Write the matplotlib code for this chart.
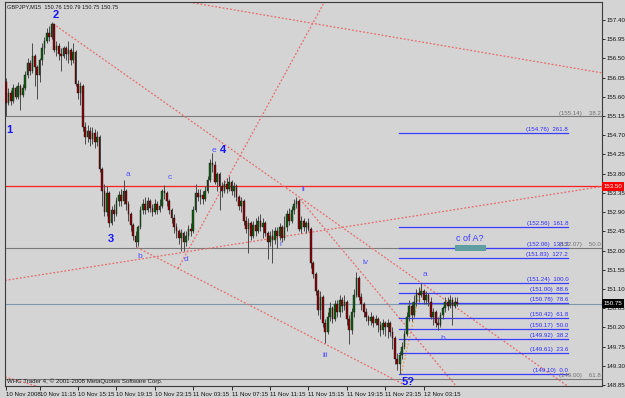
import numpy as np
import matplotlib.pyplot as plt
import matplotlib.transforms as mtransforms

plt.rcParams['font.family'] = ['Liberation Sans', 'DejaVu Sans']

# GBPJPY M15 candles, bar by bar (open = previous close)
first_open = 155.95
closes = [155.45, 155.70, 155.50, 155.80, 155.60, 155.85, 155.65, 155.80, 156.10, 156.40,
          156.20, 156.55, 156.30, 156.10, 156.45, 156.75, 156.90, 157.10, 157.00, 157.30,
          156.70, 156.80, 156.60, 156.55, 156.75, 156.60, 156.70, 156.45, 156.65, 155.90,
          155.70, 155.85, 154.90, 154.65, 154.80, 154.60, 154.75, 154.55, 154.65, 153.90,
          153.40, 152.90, 153.35, 152.65, 152.95, 152.85, 153.15, 153.30, 153.15, 153.40,
          153.10, 152.85, 152.60, 152.35, 152.20, 152.55, 152.95, 153.10, 152.95, 153.15,
          153.00, 152.90, 153.10, 152.95, 153.05, 153.40, 153.35, 153.15, 152.95, 152.75,
          152.55, 152.45, 152.30, 152.40, 152.20, 152.35, 152.50, 152.45, 152.95, 153.35,
          153.25, 153.30, 153.20, 153.40, 153.65, 154.05, 154.00, 153.60, 153.80, 153.50,
          153.40, 153.55, 153.45, 153.60, 153.40, 153.50, 153.25, 153.05, 153.15, 152.70,
          152.50, 152.65, 152.35, 152.60, 152.45, 152.70, 152.55, 152.65, 152.40, 152.20,
          152.35, 152.25, 152.45, 152.35, 152.55, 152.30, 152.55, 152.85, 152.70, 152.95,
          153.10, 153.15, 152.50, 152.70, 152.55, 152.65, 152.50, 151.70, 151.45, 151.05,
          150.60, 150.90, 150.30, 150.10, 150.45, 150.65, 150.40, 150.75, 150.55, 150.85,
          150.70, 150.80, 150.40, 150.15, 150.55, 150.95, 151.35, 150.90, 150.75, 150.55,
          150.45, 150.35, 150.45, 150.30, 150.40, 150.25, 150.15, 150.30, 150.20, 150.30,
          150.10, 149.95, 149.45, 149.35, 149.55, 149.75, 150.05, 150.45, 150.70, 150.50,
          150.80, 151.00, 150.95, 151.05, 150.85, 150.95, 150.80, 150.45, 150.55, 150.30,
          150.25, 150.50, 150.65, 150.80, 150.70, 150.85, 150.70, 150.80, 150.75]
highs = [156.05, 155.80, 155.75, 155.90, 155.85, 155.95, 155.90, 155.90, 156.20, 156.50,
         156.45, 156.86, 156.60, 156.35, 156.50, 156.85, 157.00, 157.20, 157.25, 157.36,
         157.30, 156.90, 156.85, 156.75, 156.80, 156.80, 156.90, 156.75, 156.85, 156.70,
         156.00, 155.95, 155.90, 155.00, 154.95, 154.90, 154.90, 154.85, 154.80, 154.70,
         153.95, 153.55, 153.50, 153.40, 153.05, 153.10, 153.25, 153.40, 153.45, 153.65,
         153.45, 153.15, 152.90, 152.65, 152.45, 152.60, 153.05, 153.20, 153.25, 153.25,
         153.20, 153.10, 153.20, 153.15, 153.20, 153.45, 153.53, 153.40, 153.20, 153.00,
         152.85, 152.65, 152.50, 152.50, 152.45, 152.45, 152.60, 152.65, 153.05, 153.55,
         153.45, 153.45, 153.40, 153.50, 153.75, 154.15, 154.28, 154.10, 153.85, 153.85,
         153.60, 153.65, 153.70, 153.75, 153.65, 153.60, 153.55, 153.30, 153.25, 153.20,
         152.80, 152.75, 152.70, 152.70, 152.75, 152.80, 152.85, 152.75, 152.70, 152.45,
         152.45, 152.50, 152.55, 152.55, 152.65, 152.60, 152.80, 152.95, 153.00, 153.05,
         153.20, 153.25, 153.20, 152.80, 152.75, 152.70, 152.75, 152.55, 151.75, 151.50,
         151.10, 151.05, 150.95, 150.40, 150.55, 150.80, 150.70, 150.85, 150.85, 150.95,
         150.90, 150.95, 150.85, 150.50, 150.65, 151.10, 151.50, 151.40, 151.00, 150.80,
         150.65, 150.50, 150.55, 150.50, 150.50, 150.45, 150.35, 150.40, 150.35, 150.40,
         150.35, 150.20, 150.00, 149.60, 149.65, 149.85, 150.15, 150.55, 150.85, 150.80,
         150.95, 151.10, 151.15, 151.24, 151.10, 151.05, 151.00, 150.90, 150.65, 150.60,
         150.45, 150.55, 150.70, 150.90, 150.90, 150.95, 150.90, 150.90, 150.90]
lows = [155.15, 155.40, 155.40, 155.45, 155.55, 155.55, 155.30, 155.60, 155.75, 156.05,
        156.10, 156.15, 155.85, 155.55, 155.95, 156.35, 156.60, 156.85, 156.90, 156.95,
        156.65, 156.55, 156.45, 156.20, 156.50, 156.45, 156.40, 156.35, 156.40, 155.85,
        155.55, 155.40, 154.80, 154.50, 154.55, 154.45, 154.50, 154.40, 154.45, 153.85,
        153.05, 152.80, 152.80, 152.55, 152.60, 152.70, 152.80, 153.05, 153.05, 153.10,
        152.95, 152.70, 152.45, 152.25, 152.08, 152.10, 152.50, 152.85, 152.85, 152.90,
        152.90, 152.80, 152.85, 152.85, 152.90, 153.00, 153.20, 153.05, 152.85, 152.65,
        152.40, 152.30, 152.15, 152.00, 151.98, 152.10, 152.25, 152.35, 152.40, 152.90,
        153.15, 153.10, 153.10, 153.15, 153.35, 153.60, 153.85, 153.55, 153.40, 152.95,
        153.25, 153.35, 153.35, 153.40, 153.30, 153.25, 153.15, 152.95, 152.90, 152.60,
        152.40, 151.95, 152.25, 152.30, 152.35, 152.40, 152.45, 152.30, 152.35, 151.80,
        152.10, 151.70, 152.15, 152.05, 152.25, 152.20, 152.25, 152.45, 152.60, 152.65,
        152.85, 153.00, 152.45, 152.40, 152.45, 152.40, 152.45, 151.60, 151.35, 150.95,
        150.50, 150.40, 150.20, 149.83, 150.05, 150.35, 150.30, 150.35, 150.45, 150.45,
        150.55, 150.60, 150.25, 149.80, 150.05, 150.45, 150.90, 150.85, 150.60, 150.45,
        150.35, 150.25, 150.25, 150.20, 150.25, 150.10, 150.00, 150.05, 150.00, 149.95,
        150.00, 149.70, 149.35, 149.20, 149.10, 149.45, 149.70, 150.00, 150.35, 150.35,
        150.45, 150.70, 150.80, 150.90, 150.75, 150.75, 150.70, 150.40, 150.25, 150.20,
        150.14, 150.20, 150.40, 150.55, 150.60, 150.65, 150.25, 150.65, 150.70]

time_ticks = [0, 14, 30, 46, 62, 78, 94, 110, 126, 142, 158, 174]
time_labels = ['10 Nov 2008', '10 Nov 11:15', '10 Nov 15:15', '10 Nov 19:15', '10 Nov 23:15',
               '11 Nov 03:15', '11 Nov 07:15', '11 Nov 11:15', '11 Nov 15:15', '11 Nov 19:15',
               '11 Nov 23:15', '12 Nov 03:15']
price_ticks = [148.85, 149.30, 149.75, 150.20, 150.65, 151.10, 151.55, 152.00, 152.45, 152.90,
               153.35, 153.80, 154.25, 154.70, 155.15, 155.60, 156.05, 156.50, 156.95, 157.40]

# fibonacci expansion (blue) and retracement (grey)
fib_prices = [154.76, 152.56, 152.06, 151.83, 151.24, 151.00, 150.78, 150.42, 150.17, 149.92, 149.61, 149.10]
fib_ratios = ['261.8', '161.8', '138.2', '127.2', '100.0', '88.6', '78.6', '61.8', '50.0', '38.2', '23.6', '0.0']
ret_prices = [155.14, 152.07, 149.00]
ret_ratios = ['38.2', '50.0', '61.8']

# trend lines (bar, price) pairs
trend_lines = [
    [(73.3, 157.845), (248.3, 156.16)],
    [(19.6, 157.31), (247.5, 148.29)],
    [(-0.42, 151.30), (248.3, 153.50)],
    [(54.6, 152.07), (166.25, 148.85)],
    [(122.5, 153.20), (187.5, 148.83)],
    [(71.7, 151.58), (132.9, 157.845)],
    [(-0.42, 149.04), (15.4, 148.78)],
]
fib_trend = [(164.6, 149.10), (173.3, 151.23)]

wave_big = [('1', 1.25, 154.82), ('2', 20.8, 157.52), ('3', 43.75, 152.27),
            ('4', 90.4, 154.35), ('5?', 167.5, 148.92)]
wave_small = [('a', 50.8, 153.77), ('b', 55.8, 151.87), ('c', 68.3, 153.70), ('d', 75.0, 151.80),
              ('e', 86.7, 154.35), ('i', 114.2, 152.13), ('ii', 123.75, 153.44),
              ('iii', 132.9, 149.53), ('iv', 150.0, 151.71), ('a', 174.6, 151.43), ('b', 182.0, 149.93)]

bg = '#d4d4d4'
small = 4.4
fig = plt.figure(figsize=(6.25, 3.98), dpi=100, facecolor=bg)
ax = fig.add_axes([5 / 625, 12 / 398, 597 / 625, 384 / 398], facecolor=bg)
ax.set_xlim(-0.42, 248.3)
ax.set_ylim(148.827, 157.82)

# horizontal lines
ax.axhline(153.50, color='#ff2020', lw=0.9, zorder=1)
for p in ret_prices:
    ax.axhline(p, color='#7a7a7a', lw=0.8, zorder=1)
ax.axhline(150.75, color='#7d97ac', lw=0.8, zorder=1)

for (b0, p0), (b1, p1) in trend_lines:
    ax.plot([b0, b1], [p0, p1], color='#e86a6a', lw=0.9, ls=(0, (1.5, 1.5)), zorder=2)
ax.plot([fib_trend[0][0], fib_trend[1][0]], [fib_trend[0][1], fib_trend[1][1]],
        color='#e0a050', lw=0.9, ls=(0, (1.5, 1.5)), zorder=2)

fib_start, fib_end = 163.75, 234.2
for p, r in zip(fib_prices, fib_ratios):
    ax.plot([fib_start, fib_end], [p, p], color='#3c3cff', lw=0.9, zorder=2)
    ax.text(fib_end, p + 0.02, f'({p:.2f})  {r}', color='#2a2aff', fontsize=small,
            ha='right', va='bottom', zorder=4)
for p, r in zip(ret_prices, ret_ratios):
    ax.text(247.8, p + 0.02, f'({p:.2f})    {r}', color='#707070', fontsize=small,
            ha='right', va='bottom', zorder=4)

# candles
x = np.arange(len(closes))
c = np.array(closes)
o = np.array([first_open] + closes[:-1])
h = np.array(highs)
l = np.array(lows)
up = c >= o
ax.vlines(x, l, h, color='#4a4a4a', lw=0.7, zorder=3)
ax.bar(x[up], (c - o)[up], bottom=o[up], width=0.72, color='#0d5f0d',
       edgecolor='#1a1a1a', lw=0.3, zorder=3)
ax.bar(x[~up], (o - c)[~up], bottom=c[~up], width=0.72, color='#8a0000',
       edgecolor='#1a1a1a', lw=0.3, zorder=3)

# "c of A?" box
ax.add_patch(plt.Rectangle((187.1, 151.99), 12.9, 0.14, facecolor='#5f9ea0',
                           edgecolor='none', zorder=2.5))
ax.text(193.3, 152.18, 'c of A?', color='#3a3aff', fontsize=6.5, ha='center', va='bottom', zorder=4)

for s, b, p in wave_big:
    ax.text(b, p, s, color='#1414ff', fontsize=8, fontweight='bold', ha='center', va='center', zorder=5)
for s, b, p in wave_small:
    ax.text(b, p, s, color='#5050ff', fontsize=6, ha='center', va='center', zorder=5)

# axes styling
for sp in ax.spines.values():
    sp.set_color('#3a3a3a')
    sp.set_linewidth(0.8)
ax.yaxis.tick_right()
ax.set_yticks(price_ticks)
ax.set_yticklabels([f'{v:.2f}' for v in price_ticks])
ax.tick_params(axis='y', length=2, width=0.6, pad=1.5, labelsize=small, colors='#111111')
ax.set_xticks(time_ticks)
ax.set_xticklabels(time_labels, ha='left')
ax.tick_params(axis='x', length=3, width=0.6, pad=1, labelsize=small, colors='#111111')

trans = mtransforms.blended_transform_factory(ax.transAxes, ax.transData)
ax.text(1.003, 153.50, '153.50', transform=trans, color='white', fontsize=small, ha='left', va='center',
        bbox=dict(facecolor='#ff0000', edgecolor='none', pad=1.4), zorder=6, clip_on=False)
ax.text(1.003, 150.75, '150.75', transform=trans, color='white', fontsize=small, ha='left', va='center',
        bbox=dict(facecolor='#000000', edgecolor='none', pad=1.4), zorder=6, clip_on=False)

ax.text(0.003, 0.993, 'GBPJPY,M15  150.76 150.79 150.75 150.75', transform=ax.transAxes,
        fontsize=4.1, color='#1a1a1a', ha='left', va='top', zorder=6)
ax.text(0.003, 0.005, 'WHC Trader 4, \u00a9 2001-2008 MetaQuotes Software Corp.', transform=ax.transAxes,
        fontsize=small, color='#1a1a1a', ha='left', va='bottom', zorder=6)

fig.savefig('out.png', dpi=100, facecolor=bg)
